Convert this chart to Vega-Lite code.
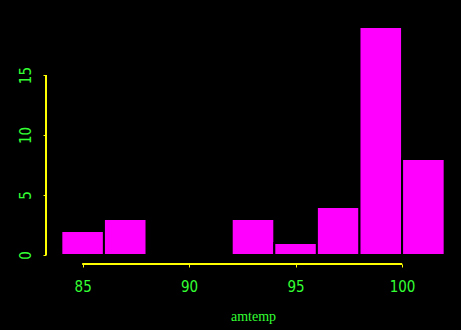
{
  "$schema": "https://vega.github.io/schema/vega-lite/v6.json",
  "width": 414,
  "height": 246,
  "autosize": "none",
  "padding": {"left": 46, "top": 18, "right": 1, "bottom": 66},
  "background": "black",
  "config": {"view": {"stroke": null}},
  "data": {
    "values": [
      {"bin_start": 84, "bin_end": 86, "count": 2},
      {"bin_start": 86, "bin_end": 88, "count": 3},
      {"bin_start": 88, "bin_end": 90, "count": 0},
      {"bin_start": 90, "bin_end": 92, "count": 0},
      {"bin_start": 92, "bin_end": 94, "count": 3},
      {"bin_start": 94, "bin_end": 96, "count": 1},
      {"bin_start": 96, "bin_end": 98, "count": 4},
      {"bin_start": 98, "bin_end": 100, "count": 19},
      {"bin_start": 100, "bin_end": 102, "count": 8}
    ]
  },
  "layer": [
    {
      "mark": {"type": "bar", "fill": "#ff00ff", "stroke": "black", "strokeWidth": 2},
      "encoding": {
        "x": {
          "field": "bin_start",
          "type": "quantitative",
          "scale": {"domain": [83.28, 102.72], "nice": false, "zero": false},
          "axis": {
            "title": "amtemp",
            "values": [85, 90, 95, 100],
            "domain": false,
            "grid": false,
            "ticks": true,
            "tickSize": 3,
            "tickColor": "#ffff00",
            "labelColor": "#33ff33",
            "labelFont": "Liberation Sans Narrow, DejaVu Sans Condensed, DejaVu Sans",
            "labelFontSize": 15,
            "labelPadding": 12,
            "titleColor": "#33ff33",
            "titleFont": "Liberation Serif",
            "titleFontSize": 14,
            "titleFontWeight": "normal",
            "titleBaseline": "alphabetic",
            "titleY": 56
          }
        },
        "x2": {"field": "bin_end"},
        "y": {
          "field": "count",
          "type": "quantitative",
          "scale": {"domain": [-0.76, 19.76], "nice": false, "zero": false},
          "axis": {
            "title": null,
            "values": [0, 5, 10, 15],
            "domain": false,
            "grid": false,
            "ticks": true,
            "tickSize": 3,
            "tickColor": "#ffff00",
            "labelColor": "#33ff33",
            "labelFont": "Liberation Sans Narrow, DejaVu Sans Condensed, DejaVu Sans",
            "labelFontSize": 15,
            "labelAngle": 270,
            "labelAlign": "center",
            "labelBaseline": "alphabetic",
            "labelPadding": 13
          }
        },
        "y2": {"datum": 0}
      }
    },
    {
      "mark": {"type": "rule", "color": "#ffff00", "strokeWidth": 1},
      "encoding": {
        "x": {"datum": 85, "type": "quantitative"},
        "x2": {"datum": 100},
        "y": {"datum": -0.76, "type": "quantitative"}
      }
    },
    {
      "mark": {"type": "rule", "color": "#ffff00", "strokeWidth": 1},
      "encoding": {
        "x": {"datum": 83.28, "type": "quantitative"},
        "y": {"datum": 0, "type": "quantitative"},
        "y2": {"datum": 15}
      }
    }
  ]
}
